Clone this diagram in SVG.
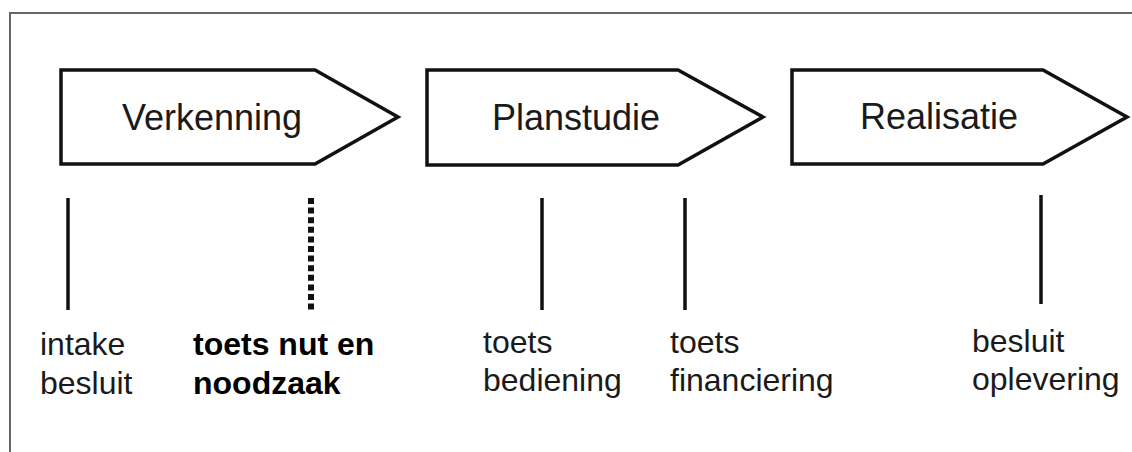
<svg xmlns="http://www.w3.org/2000/svg" width="1132" height="452" viewBox="0 0 1132 452">
<style>
.phase{fill:#fff;stroke:#111;stroke-width:3.5;stroke-linejoin:miter}
.title{font-family:"Liberation Sans",Arial,sans-serif;font-size:36px;fill:#1a1a1a;text-anchor:middle}
.lbl{font-family:"Liberation Sans",Arial,sans-serif;font-size:32px;fill:#1a1a1a}
.bold{font-weight:bold;fill:#000}
.tick{stroke:#111;stroke-width:3.5;fill:none}
.dots{stroke:#111;stroke-width:6;stroke-dasharray:6 3.6;fill:none}
</style>
<rect width="1132" height="452" fill="#fff"/>
<path d="M10,452 V13 H1132" fill="none" stroke="#666" stroke-width="2"/>
<g id="verkenning">
<polygon class="phase" points="61,70 315,70 398,117 315,164 61,164"/>
<text class="title" x="212" y="130">Verkenning</text>
</g>
<g id="planstudie">
<polygon class="phase" points="427,70 678,70 763,117 678,165 427,165"/>
<text class="title" x="576" y="130">Planstudie</text>
</g>
<g id="realisatie">
<polygon class="phase" points="792,70 1043,70 1127,117 1043,164 792,164"/>
<text class="title" x="939" y="129">Realisatie</text>
</g>
<g id="connectors">
<line class="tick" x1="68" y1="198" x2="68" y2="310"/>
<line class="dots" x1="311" y1="198" x2="311" y2="311"/>
<line class="tick" x1="542" y1="198" x2="542" y2="310"/>
<line class="tick" x1="685" y1="198" x2="685" y2="310"/>
<line class="tick" x1="1041" y1="195" x2="1041" y2="304"/>
</g>
<g id="intake">
<text class="lbl" x="40" y="355">intake</text>
<text class="lbl" x="40" y="394">besluit</text>
</g>
<g id="nut">
<text class="lbl bold" x="193" y="355">toets nut en</text>
<text class="lbl bold" x="193" y="394">noodzaak</text>
</g>
<g id="bediening">
<text class="lbl" x="483" y="353">toets</text>
<text class="lbl" x="483" y="391">bediening</text>
</g>
<g id="financiering">
<text class="lbl" x="670" y="353">toets</text>
<text class="lbl" x="670" y="391">financiering</text>
</g>
<g id="oplevering">
<text class="lbl" x="972" y="352">besluit</text>
<text class="lbl" x="972" y="390">oplevering</text>
</g>
</svg>
